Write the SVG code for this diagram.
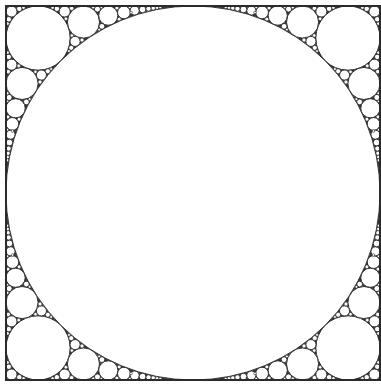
<svg xmlns="http://www.w3.org/2000/svg" width="381" height="385" viewBox="0 0 381 385">
<style>
.c{fill:#fff;stroke:#262626;stroke-width:0.9}
.s{fill:#fff;stroke:#262626;stroke-width:0.6}
</style>
<rect width="381" height="385" fill="#fff"/>
<rect x="6" y="6" width="374" height="374" fill="#3a3a3a"/>
<defs>
<g id="half">
<circle class="c" cx="363.958" cy="302.542" r="16.042"/>
<circle class="c" cx="370.403" cy="277.726" r="9.597"/>
<circle class="c" cx="373.621" cy="262.077" r="6.379"/>
<circle class="c" cx="375.455" cy="251.308" r="4.545"/>
<circle class="c" cx="376.598" cy="243.444" r="3.402"/>
<circle class="c" cx="377.359" cy="237.449" r="2.641"/>
<circle class="s" cx="377.890" cy="232.727" r="2.110"/>
<circle class="s" cx="378.276" cy="228.912" r="1.724"/>
<circle class="s" cx="378.565" cy="225.766" r="1.435"/>
<circle class="c" cx="374.495" cy="321.337" r="5.505"/>
<circle class="c" cx="344.594" cy="310.923" r="5.058"/>
<circle class="c" cx="376.949" cy="288.549" r="3.051"/>
<circle class="c" cx="359.637" cy="284.090" r="2.909"/>
<circle class="s" cx="378.064" cy="269.106" r="1.936"/>
<circle class="s" cx="366.857" cy="266.813" r="1.878"/>
<circle class="s" cx="378.664" cy="256.237" r="1.337"/>
<circle class="s" cx="373.457" cy="254.910" r="1.308"/>
<circle class="c" cx="377.248" cy="329.121" r="2.752"/>
<circle class="s" cx="377.811" cy="314.394" r="2.189"/>
<circle class="s" cx="367.280" cy="320.090" r="1.817"/>
<circle class="s" cx="378.353" cy="333.379" r="1.647"/>
<circle class="s" cx="338.139" cy="314.782" r="2.462"/>
<circle class="s" cx="345.973" cy="303.999" r="2.002"/>
<circle class="s" cx="350.541" cy="314.201" r="1.733"/>
<circle class="s" cx="378.520" cy="292.799" r="1.480"/>
<circle class="s" cx="378.753" cy="284.647" r="1.248"/>
<circle class="s" cx="356.346" cy="286.858" r="1.391"/>
<circle class="s" cx="334.911" cy="317.002" r="1.454"/>
<circle class="c" cx="377.248" cy="366.710" r="2.752"/>
<circle class="s" cx="378.353" cy="362.453" r="1.647"/>
</g>
<g id="corner">
<circle class="c" cx="347.916" cy="347.916" r="32.084"/>
<circle class="c" cx="374.495" cy="374.495" r="5.505"/>
<use href="#half"/>
<use href="#half" transform="matrix(0 1 1 0 0 0)"/>
</g>
</defs>
<g id="corners">
<use href="#corner"/>
<use href="#corner" transform="matrix(-1 0 0 1 386 0)"/>
<use href="#corner" transform="matrix(1 0 0 -1 0 386)"/>
<use href="#corner" transform="matrix(-1 0 0 -1 386 386)"/>
</g>
<circle id="big" class="c" cx="193" cy="193" r="187"/>
<rect id="frame" x="6" y="6" width="374" height="374" fill="none" stroke="#2b2b2b" stroke-width="2"/>
</svg>
